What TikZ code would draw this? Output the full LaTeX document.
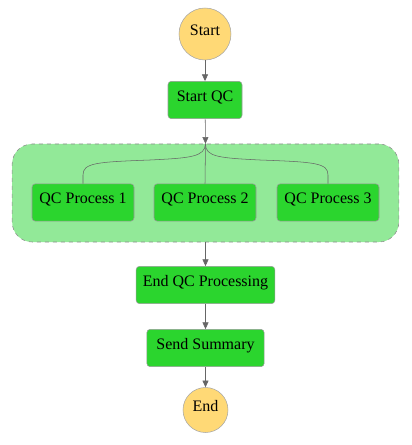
\documentclass[tikz,border=0pt]{standalone}
\usepackage{fontspec}
\setmainfont{Liberation Serif}
\usetikzlibrary{arrows.meta}
\definecolor{taskgreen}{RGB}{43,213,46}
\definecolor{groupgreen}{RGB}{146,233,152}
\definecolor{termyellow}{RGB}{255,217,118}

\begin{document}
\begin{tikzpicture}[x=0.75pt, y=-0.75pt,
    task/.style={draw=black!40, fill=taskgreen, rounded corners=2.5pt, inner sep=0pt,
      minimum height=28pt, text height=8pt, text depth=6pt, font=\fontsize{12}{14}\selectfont},
    term/.style={circle, draw=black!35, fill=termyellow, inner sep=0pt,
      text height=8pt, text depth=6pt, font=\fontsize{12}{14}\selectfont},
    group/.style={draw=black!45, dashed, fill=groupgreen, rounded corners=15pt,
      minimum width=290pt, minimum height=73.5pt, inner sep=0pt},
    link/.style={draw=black!60, -{Triangle[length=5pt,width=4.5pt]}},
    branch/.style={draw=black!60}]

    \useasboundingbox (0,0) rectangle (411,445);

    \node (par) at (205.5, 193) [group] {};

    \node (start) at (205, 34) [term, minimum size=39pt] {Start};
    \node (startqc) at (205, 100) [task, minimum width=55.5pt] {Start QC};
    \node (qc1) at (83, 202.5) [task, minimum width=76.5pt] {QC Process 1};
    \node (qc2) at (205, 202.5) [task, minimum width=76.5pt] {QC Process 2};
    \node (qc3) at (328, 202.5) [task, minimum width=76.5pt] {QC Process 3};
    \node (endqc) at (205.5, 285) [task, minimum width=104pt] {End QC Processing};
    \node (summary) at (205.5, 348) [task, minimum width=88pt] {Send Summary};
    \node (end) at (205.5, 410) [term, minimum size=33.75pt] {End};

    \draw [link] (start) to (startqc);
    \draw [link] (startqc) to (par.north);
    \draw [branch] (par.north) .. controls (205,157) and (190,158) .. (150,160)
      .. controls (96,162) and (83,163) .. (83,175) -- (qc1.north);
    \draw [branch] (par.north) -- (qc2.north);
    \draw [branch] (par.north) .. controls (205,157) and (220,158) .. (260,160)
      .. controls (315,162) and (328,163) .. (328,175) -- (qc3.north);
    \draw [link] (par.south) to (endqc);
    \draw [link] (endqc) to (summary);
    \draw [link] (summary) to (end);

\end{tikzpicture}
\end{document}
